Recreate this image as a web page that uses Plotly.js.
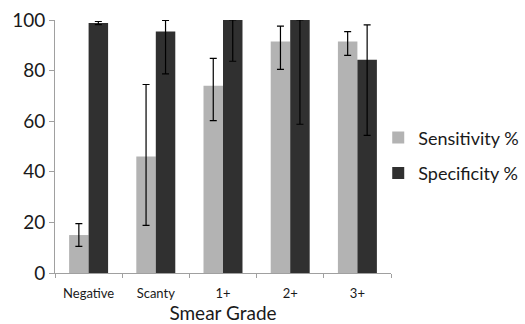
<!DOCTYPE html>
<html>
<head>
<meta charset="utf-8">
<script src="https://cdn.plot.ly/plotly-3.0.1.min.js"></script>
<style>html,body{margin:0;padding:0;background:#fff}#chart{width:525px;height:324px}</style>
</head>
<body>
<div id="chart"></div>
<script>
const categories = ["Negative", "Scanty", "1+", "2+", "3+"];
const sensitivity = [15, 46, 74, 91.5, 91.5];
const sensUpper = [19.5, 74.5, 84.8, 97.6, 95.4];
const sensLower = [10.5, 18.8, 60.2, 80.5, 86];
const specificity = [98.8, 95.5, 100, 100, 84.3];
const specUpper = [99.4, 99.8, 100, 100, 98.1];
const specLower = [98.2, 78.7, 83.7, 58.8, 54.4];

const diff = (a, b) => a.map((v, i) => Math.max(0, v - b[i]));

const font = "Lato, 'Open Sans', sans-serif";
const errStyle = {color: "#000", thickness: 1.2, width: 3.5};

const traces = [
  {
    type: "bar", name: "Sensitivity %", x: categories, y: sensitivity,
    marker: {color: "#b3b3b3"}, legendgroup: "a",
    error_y: Object.assign({type: "data", symmetric: false, array: diff(sensUpper, sensitivity), arrayminus: diff(sensitivity, sensLower)}, errStyle)
  },
  {
    type: "bar", name: "Specificity %", x: categories, y: specificity,
    marker: {color: "#303030"}, legendgroup: "b",
    error_y: Object.assign({type: "data", symmetric: false, array: diff(specUpper, specificity), arrayminus: diff(specificity, specLower)}, errStyle)
  }
];

const layout = {
  width: 525, height: 324,
  margin: {l: 55, r: 134, t: 20, b: 51, autoexpand: false},
  paper_bgcolor: "#fff", plot_bgcolor: "#fff",
  barmode: "group", bargap: 0.42, bargroupgap: 0,
  font: {family: font, color: "#1a1a1a"},
  xaxis: {
    showline: true, linecolor: "#a0a0a0", linewidth: 1,
    ticks: "outside", tickson: "boundaries", ticklen: 4, tickcolor: "#a0a0a0",
    ticklabelstandoff: 8, tickangle: 0,
    tickfont: {size: 13, color: "#1a1a1a"},
    title: {text: "Smear Grade", font: {size: 19, color: "#1a1a1a"}, standoff: 9},
    showgrid: false, automargin: false
  },
  yaxis: {
    range: [0, 100], dtick: 20,
    showline: true, linecolor: "#a0a0a0", linewidth: 1,
    ticks: "outside", ticklen: 5, tickcolor: "#a0a0a0",
    tickfont: {size: 19, color: "#1a1a1a"},
    showgrid: false, zeroline: false, automargin: false
  },
  legend: {
    x: 0.962, y: 0.465, xanchor: "left", yanchor: "middle",
    font: {size: 18, color: "#1a1a1a"},
    traceorder: "grouped", tracegroupgap: 9,
    itemwidth: 30
  },
  showlegend: true
};

Plotly.newPlot("chart", traces, layout, {displayModeBar: false, staticPlot: true});
</script>
</body>
</html>
